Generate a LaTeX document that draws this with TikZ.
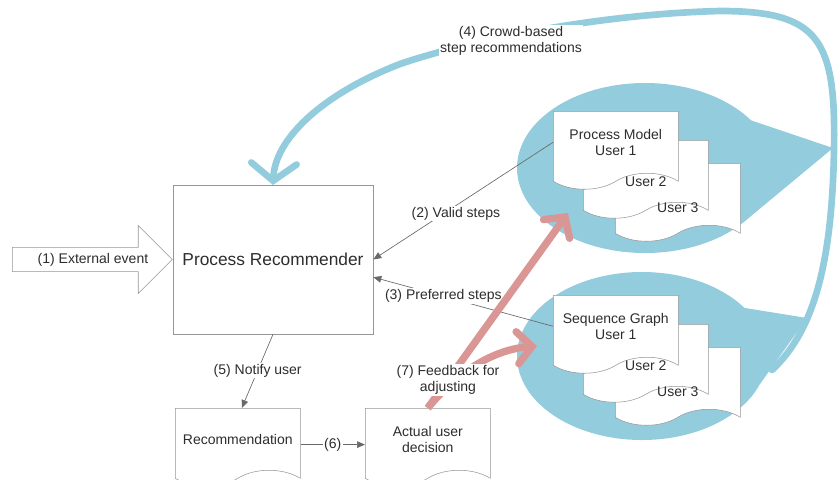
\documentclass[tikz,border=0pt]{standalone}
\usepackage{fontspec}
\setmainfont{Liberation Sans}
\usetikzlibrary{arrows.meta,positioning,shapes.geometric,shapes.symbols,shapes.arrows,calc}
\definecolor{sky}{RGB}{147,205,221}
\definecolor{rose}{RGB}{217,150,148}
\definecolor{frame}{RGB}{150,150,150}
\definecolor{wire}{RGB}{105,105,105}
\definecolor{ink}{RGB}{45,45,45}
\newcommand\lblfont{\fontsize{10.5}{12}\selectfont}
\tikzset{
  >={Triangle[length=6pt,width=5pt]},
  recbox/.style={draw=frame,fill=white,minimum width=150pt,minimum height=111.75pt,
    font=\fontsize{13}{15}\selectfont,text=ink},
  docbox/.style={tape,tape bend top=none,tape bend bottom=in and out,tape bend height=12pt,
    draw=frame,fill=white,minimum width=93.75pt,minimum height=58.5pt,inner sep=2pt,
    font=\lblfont,text=ink,align=center},
  doctext/.style={font=\lblfont,text=ink,inner sep=0pt},
  evarrow/.style={single arrow,draw=frame,fill=white,minimum height=120pt,
    single arrow head extend=16.5pt,inner ysep=4pt,font=\lblfont,text=ink},
  flow/.style={->,draw=wire,line width=0.5pt},
  lbl/.style={fill=white,inner sep=1pt,font=\lblfont,text=ink,align=center},
  cloud/.style={ellipse,fill=sky,inner sep=0pt},
  crowd/.style={draw=sky,line width=5pt,line cap=round,
    -{Straight Barb[length=13pt,width=34pt,line cap=round]}},
  fb/.style={draw=rose,line width=5.5pt,
    -{Straight Barb[length=11pt,width=24pt,line cap=round]}},
}
\begin{document}
\begin{tikzpicture}[x=0.75pt,y=-0.75pt]
  \useasboundingbox (0,0) rectangle (838,479);
  % crowd data clouds
  \node[cloud,minimum width=192pt,minimum height=127.5pt] (pmcloud) at (645,168) {};
  \fill[sky] (750,120) -- (833,148) -- (745,221) -- cycle;
  \node[cloud,minimum width=187.5pt,minimum height=126pt] (sgcloud) at (642,356) {};
  \fill[sky] (745,308) -- (807,318) -- (760,384) -- cycle;
  % (4) crowd-based recommendations
  \coordinate (sgtail) at (772,370);
  \draw[crowd] (sgtail) .. controls (815,330) and (832,260) .. (834,150)
    .. controls (836,40) and (820,11) .. (720,11)
    .. controls (600,14) and (470,40) .. (400,64)
    .. controls (320,95) and (275,140) .. (273,185);
  \node[lbl] (crowdlbl) at (511,40.5) {(4) Crowd-based\\step recommendations};
  % recommender
  \node[recbox] (pr) at (273,259.5) {Process Recommender};
  \node[evarrow,anchor=tip] (ext) at (pr.west) {\hspace{10pt}(1) External event};
  % user documents
  \node[docbox,anchor=north west] (pm3) at (615,163) {};
  \node[docbox,anchor=north west] (pm2) at (583,140) {};
  \node[docbox,anchor=north west] (pm1) at (553,111) {Process Model\\User 1};
  \node[doctext] at ([yshift=-8pt]pm2.center) {User 2};
  \node[doctext] at ([yshift=-10pt]pm3.center) {User 3};
  \node[docbox,anchor=north west] (sg3) at (615,347) {};
  \node[docbox,anchor=north west] (sg2) at (583,324) {};
  \node[docbox,anchor=north west] (sg1) at (553,295) {Sequence Graph\\User 1};
  \node[doctext] at ([yshift=-8pt]sg2.center) {User 2};
  \node[doctext] at ([yshift=-10pt]sg3.center) {User 3};
  \node[docbox,anchor=north west] (rec) at (175,408) {Recommendation};
  \node[docbox,anchor=north west] (act) at (365,408) {Actual user\\decision};
  % flows
  \draw[flow] (pm1.west) -- (pr.east) node[lbl,pos=.54,yshift=-6pt] {(2) Valid steps};
  \draw[flow] (sg1.west) -- (pr.-10) node[lbl,pos=.61] {(3) Preferred steps};
  \draw[flow] (pr.south) -- ([xshift=3pt]rec.north) node[lbl,pos=.49] {(5) Notify user};
  \draw[flow] ([yshift=-4pt]rec.east) -- ([yshift=-4pt]act.west) node[lbl,midway] {(6)};
  % (7) feedback
  \coordinate (sgin) at (537,346);
  \coordinate (pmin) at (568,213);
  \draw[fb] (act.north) .. controls (455,375) and (490,350) .. (sgin);
  \draw[fb] (act.north) -- (pmin) node[lbl,pos=.144] {(7) Feedback for\\adjusting};
\end{tikzpicture}
\end{document}
